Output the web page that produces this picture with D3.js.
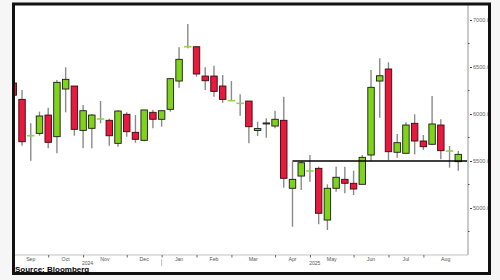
<!DOCTYPE html>
<html>
<head>
<meta charset="utf-8">
<script src="https://cdn.jsdelivr.net/npm/d3@7/dist/d3.min.js"></script>
<style>
  html, body { margin: 0; padding: 0; background: #f6f6f6; }
  svg { display: block; }
  text { font-family: "Liberation Sans", Arial, sans-serif; }
</style>
</head>
<body>
<svg id="chart" width="500" height="280"></svg>
<script>
// ---- data (weekly candles) ----
const dates = ["2024-09-07","2024-09-14","2024-09-21","2024-09-28","2024-10-05","2024-10-12","2024-10-19","2024-10-26",
  "2024-11-02","2024-11-09","2024-11-16","2024-11-23","2024-11-30","2024-12-07","2024-12-14","2024-12-21","2024-12-28",
  "2025-01-04","2025-01-11","2025-01-18","2025-01-25","2025-02-01","2025-02-08","2025-02-15","2025-02-22",
  "2025-03-01","2025-03-08","2025-03-15","2025-03-22","2025-03-29","2025-04-05","2025-04-12","2025-04-19","2025-04-26",
  "2025-05-03","2025-05-10","2025-05-17","2025-05-24","2025-05-31","2025-06-07","2025-06-14","2025-06-21","2025-06-28",
  "2025-07-05","2025-07-12","2025-07-19","2025-07-26","2025-08-02","2025-08-09","2025-08-16","2025-08-23","2025-08-30"];
const opens  = [6330,6156,5769,5794,5989,5759,6266,6298, 5826,5848,5947,5933,5688,5997,5805,5720,6018,
  5944,6050,6351,6716,6716,6404,6404,6298, 6142,6114,6138,5825,5895,5872,5933,5210,5340,
  5394,5422,4872,5210,5305,5263,5252,5564,6351, 6479,5593,5582,5901,5713,5678,5883,5606,5493];
const highs  = [6350,6255,5901,6025,6067,6362,6497,6298, 6096,6000,6138,5950,6043,6018,5989,6045,6043,
  6043,6380,6710,6957,6716,6497,6514,6415, 6351,6210,6138,5918,5954,6035,6184,5493,5493,
  5564,5440,5252,5440,5440,5397,5564,6468,6593, 6550,5787,5912,5997,5777,6191,5944,5660,5606];
const lows   = [6180,5663,5503,5769,5635,5582,6018,5769, 5635,5635,5901,5663,5652,5759,5695,5710,5848,
  5865,6025,6280,6699,6397,6255,6184,6120, 6142,5982,5688,5766,5748,5848,5216,4801,5191,
  5280,4827,4766,5173,5156,5138,5252,5503,5961, 5511,5535,5582,5571,5617,5670,5518,5429,5397];
const closes = [6200,5705,5769,5979,5699,6337,6369,5837, 6035,5989,5947,5769,6032,5812,5731,6043,5944,
  6035,6376,6582,6716,6426,6354,6241,6156, 6142,6114,5865,5845,5905,5944,5316,5305,5482,
  5394,4944,5210,5327,5263,5202,5539,6284,6407, 5599,5695,5883,5713,5652,5894,5610,5606,5571];

const monthTickDates = ["2024-09-07","2024-10-05","2024-11-02","2024-12-07","2025-01-04","2025-02-01",
  "2025-03-01","2025-04-05","2025-05-03","2025-06-07","2025-07-05","2025-08-02"];
const monthLabels = ["Sep","Oct","Nov","Dec","Jan","Feb","Mar","Apr","May","Jun","Jul","Aug"];
const yearLabels = ["2024","2025"];
const yearBreak = "2025-01-04";
const yTickValues = [5000, 5500, 6000, 6500, 7000];
const levelValue = 5500;
const levelStart = "2025-04-19";
const sourceText = "Source: Bloomberg";

// ---- build ----
const parse = d3.utcParse("%Y-%m-%d");
const candles = dates.map((d, i) => ({date: parse(d), o: opens[i], h: highs[i], l: lows[i], c: closes[i]}));

const svg = d3.select("#chart");
const plot = {left: 15, right: 468, top: 5, bottom: 255};

const x = d3.scaleUtc()
  .domain([parse("2024-09-07"), parse("2025-09-06")])
  .range([13.3, 467]);
const y = d3.scaleLinear()
  .domain([4500, 7160])
  .range([plot.bottom, plot.top]);

// frame background
svg.append("rect").attr("x", 13.5).attr("y", 4).attr("width", 476).attr("height", 269.5)
  .attr("fill", "#fff");

svg.append("clipPath").attr("id", "clip")
  .append("rect").attr("x", plot.left).attr("y", plot.top)
  .attr("width", plot.right - plot.left).attr("height", plot.bottom - plot.top);

const g = svg.append("g").attr("clip-path", "url(#clip)");

const step = x(candles[1].date) - x(candles[0].date);
const bw = step * 0.74;

const RED = "#e8193f", GREEN = "#7fd31b", DOJI = "#8fd44a", WICK = "#8a8a8a";

// wicks
g.selectAll("line.wick").data(candles).join("line")
  .attr("class", "wick")
  .attr("x1", d => x(d.date)).attr("x2", d => x(d.date))
  .attr("y1", d => y(d.h)).attr("y2", d => y(d.l))
  .attr("stroke", WICK).attr("stroke-width", 1.4);

// bodies
const bodies = candles.filter(d => d.o !== d.c);
g.selectAll("rect.body").data(bodies).join("rect")
  .attr("class", "body")
  .attr("x", d => x(d.date) - bw / 2)
  .attr("width", bw)
  .attr("y", d => y(Math.max(d.o, d.c)))
  .attr("height", d => Math.max(1, Math.abs(y(d.o) - y(d.c))))
  .attr("fill", d => d.c > d.o ? GREEN : RED)
  .attr("stroke", d => d.c > d.o ? "#1a1a1a" : "#3a0a10")
  .attr("stroke-width", 0.9);

// doji
const dojis = candles.filter(d => d.o === d.c);
g.selectAll("line.doji").data(dojis).join("line")
  .attr("class", "doji")
  .attr("x1", d => x(d.date) - bw / 2 - 0.5).attr("x2", d => x(d.date) + bw / 2 + 0.5)
  .attr("y1", d => y(d.o)).attr("y2", d => y(d.o))
  .attr("stroke", DOJI).attr("stroke-width", 1.6);

// level line
svg.append("line")
  .attr("x1", x(parse(levelStart))).attr("x2", plot.right)
  .attr("y1", y(levelValue)).attr("y2", y(levelValue))
  .attr("stroke", "#000").attr("stroke-width", 1.4);

// y axis (right)
const yAxisG = svg.append("g").attr("transform", `translate(${plot.right},0)`);
yAxisG.append("line").attr("x1", 0).attr("x2", 0).attr("y1", plot.top).attr("y2", plot.bottom)
  .attr("stroke", "#c4c4c4").attr("stroke-width", 1.8);
const minorTicks = d3.range(4750, 7001, 250).filter(v => !yTickValues.includes(v));
yAxisG.selectAll("line.minor").data(minorTicks).join("line")
  .attr("x1", 0).attr("x2", 1.5).attr("y1", d => y(d)).attr("y2", d => y(d))
  .attr("stroke", "#555").attr("stroke-width", 1);
const yAxis = d3.axisRight(y).tickValues(yTickValues).tickSize(4).tickFormat(d3.format(".1f"));
const ya = yAxisG.append("g").call(yAxis);
ya.select(".domain").remove();
ya.selectAll(".tick line").attr("stroke", "#444").attr("x1", 2).attr("stroke-width", 1);
ya.selectAll(".tick text").attr("x", 5).attr("font-size", 5.6).attr("fill", "#666")
  .attr("font-family", "Liberation Sans, Arial, sans-serif");

// x axis
const tickDates = monthTickDates.map(parse);
const xAxisG = svg.append("g").attr("transform", `translate(0,${plot.bottom})`);
xAxisG.append("line").attr("x1", plot.left).attr("x2", plot.right).attr("y1", 0).attr("y2", 0)
  .attr("stroke", "#c4c4c4").attr("stroke-width", 1.2);
const xAxis = d3.axisBottom(x).tickValues(tickDates.slice(1)).tickSize(2.5).tickFormat("");
const xa = xAxisG.append("g").call(xAxis);
xa.select(".domain").remove();
xa.selectAll(".tick line").attr("stroke", "#666");

const bounds = tickDates.map(d => x(d)).concat([plot.right]);
xAxisG.selectAll("text.month").data(monthLabels).join("text")
  .attr("class", "month")
  .attr("x", (d, i) => (bounds[i] + bounds[i + 1]) / 2)
  .attr("y", 6)
  .attr("text-anchor", "middle")
  .attr("font-size", 5.2).attr("fill", "#555")
  .text(d => d);

const yb = x(parse(yearBreak));
const yearBounds = [[bounds[0], yb], [yb, plot.right]];
xAxisG.selectAll("text.year").data(yearLabels).join("text")
  .attr("class", "year")
  .attr("x", (d, i) => (yearBounds[i][0] + yearBounds[i][1]) / 2)
  .attr("y", 10.2)
  .attr("text-anchor", "middle")
  .attr("font-size", 5).attr("fill", "#555")
  .text(d => d);
xAxisG.append("line").attr("x1", yb).attr("x2", yb).attr("y1", 4).attr("y2", 11)
  .attr("stroke", "#aaa").attr("stroke-width", 0.8);

// frame (drawn on top, hides overflowing labels)
svg.append("rect").attr("x", 488.3).attr("y", 4).attr("width", 12).attr("height", 272).attr("fill", "#f6f6f6");
svg.append("rect").attr("x", 13.5).attr("y", 4).attr("width", 476).attr("height", 269.5)
  .attr("fill", "none").attr("stroke", "#111").attr("stroke-width", 3);

// source
svg.append("text").attr("x", 15).attr("y", 272)
  .attr("font-size", 8).attr("font-weight", "bold").attr("fill", "#000")
  .text(sourceText);
</script>
</body>
</html>
